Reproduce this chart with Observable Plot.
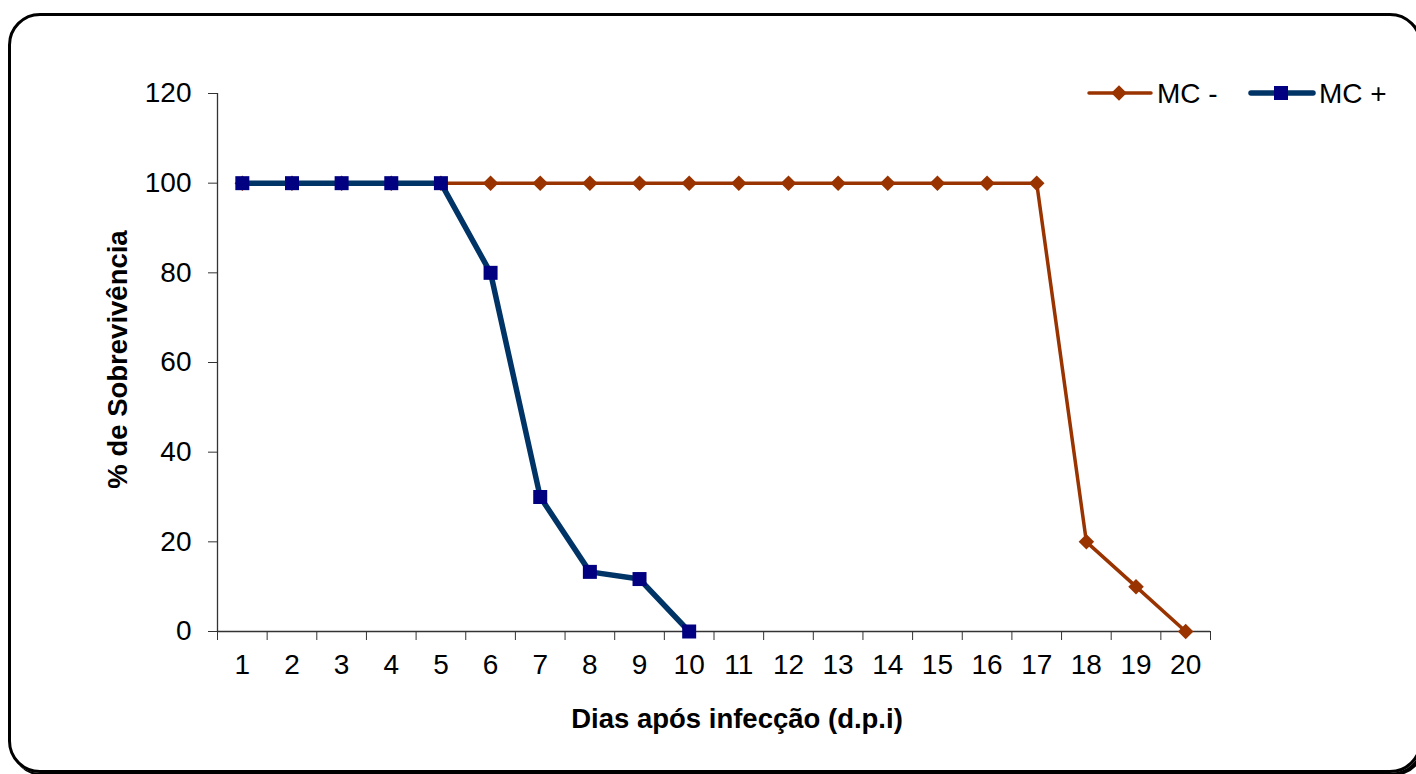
<!DOCTYPE html>
<html>
<head>
<meta charset="utf-8">
<script src="https://cdn.jsdelivr.net/npm/d3@7"></script>
<script src="https://cdn.jsdelivr.net/npm/@observablehq/plot@0.6"></script>
<style>
  html, body { margin: 0; padding: 0; background: #fff; overflow: hidden; }
  #wrap { position: relative; width: 1416px; height: 774px; overflow: hidden; font-family: "Liberation Sans", Arial, sans-serif; }
  #frame { position: absolute; left: 8px; top: 13px; width: 1408px; height: 754px; border: 3px solid #000; border-radius: 32px; box-shadow: 3px 3px 0 #000; pointer-events: none; }
  #chart { position: absolute; left: 0; top: 0; }
  #legend { position: absolute; left: 1080px; top: 73px; }
</style>
</head>
<body>
<div id="wrap">
  <div id="frame"></div>
  <div id="chart"></div>
  <svg id="legend" width="336" height="40"></svg>
</div>
<script>
// ---- data ----
const days = [1, 2, 3, 4, 5, 6, 7, 8, 9, 10, 11, 12, 13, 14, 15, 16, 17, 18, 19, 20];
const mcNeg = [100, 100, 100, 100, 100, 100, 100, 100, 100, 100, 100, 100, 100, 100, 100, 100, 100, 20, 10, 0];
const mcPos = [100, 100, 100, 100, 100, 80, 30, 13.3, 11.7, 0];
const yTicks = [0, 20, 40, 60, 80, 100, 120];
const seriesNames = ["MC -", "MC +"];
const xTitle = "Dias após infecção (d.p.i)";
const yTitle = "% de Sobrevivência";

const negData = mcNeg.map((v, i) => ({day: days[i], v}));
const posData = mcPos.map((v, i) => ({day: days[i], v}));
const bounds = days.map(d => d - 0.5).concat([days[days.length - 1] + 0.5]);

const brown = "#993300";
const blueLine = "#003366";
const blueMark = "#000080";
const axisColor = "#333";

const chart = Plot.plot({
  width: 1416,
  height: 774,
  marginLeft: 217,
  marginRight: 206,
  marginTop: 93,
  marginBottom: 143,
  x: {type: "linear", domain: [0.5, 20.5]},
  y: {domain: [0, 120]},
  style: {fontFamily: "'Liberation Sans', Arial, sans-serif", fontSize: "28px", color: "#000", background: "transparent"},
  marks: [
    Plot.ruleX([0.5], {stroke: axisColor, strokeWidth: 1.3}),
    Plot.ruleY([0], {stroke: axisColor, strokeWidth: 1.3}),
    Plot.axisY({ticks: yTicks, tickSize: 9, tickPadding: 17, label: null, fontSize: 28, stroke: axisColor, tickFormat: d => String(d)}),
    Plot.axisX({ticks: bounds, tickSize: 9, tickFormat: () => "", label: null, stroke: axisColor}),
    Plot.axisX({ticks: days, tickSize: 0, tickPadding: 23, label: null, fontSize: 28, tickFormat: d => String(d)}),
    Plot.line(negData, {x: "day", y: "v", stroke: brown, strokeWidth: 3.5}),
    Plot.dot(negData, {x: "day", y: "v", symbol: "diamond2", r: 7, fill: brown, stroke: null}),
    Plot.line(posData, {x: "day", y: "v", stroke: blueLine, strokeWidth: 5.5}),
    Plot.dot(posData, {x: "day", y: "v", symbol: "square", r: 7.9, fill: blueMark, stroke: null}),
    Plot.text([xTitle], {frameAnchor: "bottom", textAnchor: "middle", lineAnchor: "middle", dx: 23, dy: 88, fontWeight: "bold", fontSize: 27.5}),
    Plot.text([yTitle], {frameAnchor: "left", textAnchor: "middle", lineAnchor: "middle", dx: -99, dy: -3, rotate: -90, fontWeight: "bold", fontSize: 27.5})
  ]
});
document.getElementById("chart").appendChild(chart);

// ---- legend ----
const lg = d3.select("#legend");
const items = [
  {name: seriesNames[0], color: brown, mark: brown, w: 3.5, sym: d3.symbolDiamond2, size: 154, x0: 9, tx: 77},
  {name: seriesNames[1], color: blueLine, mark: blueMark, w: 5.5, sym: d3.symbolSquare, size: 196, x0: 171, tx: 239}
];
items.forEach(it => {
  const g = lg.append("g");
  g.append("line").attr("x1", it.x0).attr("x2", it.x0 + 62).attr("y1", 20).attr("y2", 20)
    .attr("stroke", it.color).attr("stroke-width", it.w).attr("stroke-linecap", "round");
  g.append("path").attr("d", d3.symbol(it.sym, it.size)()).attr("transform", `translate(${it.x0 + 30},20)`).attr("fill", it.mark);
  g.append("text").attr("x", it.tx).attr("y", 20).attr("dy", "0.35em")
    .style("font-family", "'Liberation Sans', Arial, sans-serif").style("font-size", "28px").text(it.name);
});
</script>
</body>
</html>
